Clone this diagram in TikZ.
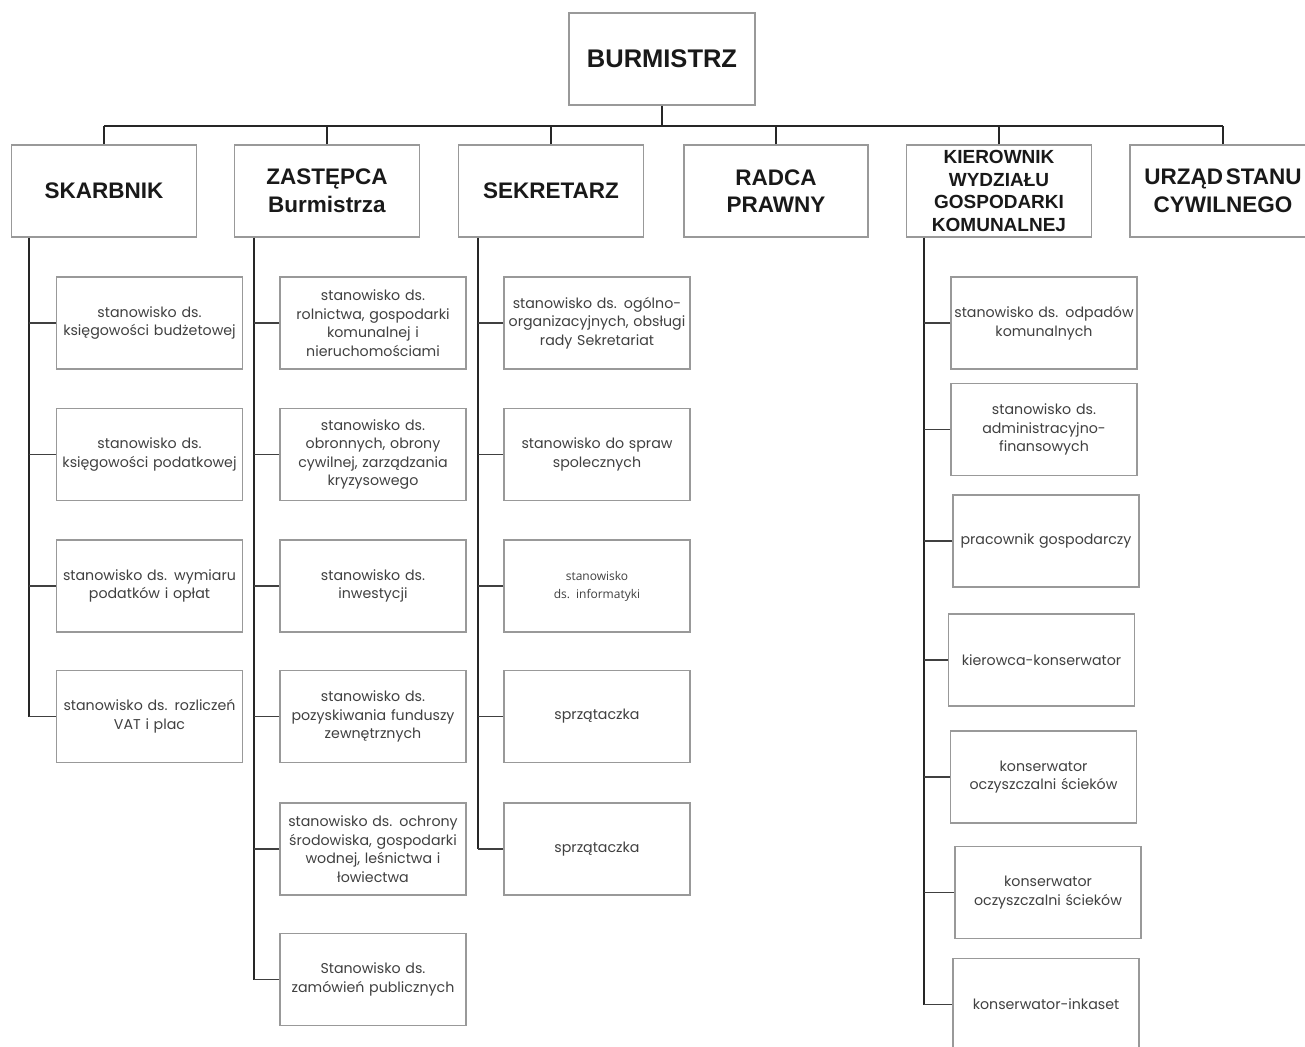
\documentclass[tikz,border=0pt]{standalone}
\usepackage{fontspec}
\setmainfont{Poppins}
\newfontfamily\hdrfont{Liberation Sans}
\newfontfamily\smallfont{Open Sans}
\begin{document}
\begin{tikzpicture}[x=1pt,y=-1pt,
  box/.style={draw=black!40, line width=1.2pt, rectangle, inner sep=0pt, align=center, fill=white},
  head/.style={box, minimum width=185pt, minimum height=92pt, text width=184pt, font=\hdrfont\bfseries\fontsize{22.5}{27.5}\selectfont, text=black!90},
  kid/.style={box, minimum width=186pt, minimum height=92pt, text width=185pt, font=\fontsize{14.2}{18.5}\selectfont, text=black!75},
  conn/.style={draw=black!85, line width=1.6pt},
  br/.style={draw=black!75, line width=1.4pt}]
\useasboundingbox (0,0) rectangle (1305,1046);
\fill[white] (0,0) rectangle (1305,1046);

% top
\node[head, minimum width=186pt, font=\hdrfont\bfseries\fontsize{25.5}{30}\selectfont] (burm) at (662,59) {BURMISTRZ};
\coordinate (bus) at (0,126);

\node[head] (sk) at (104,191) {SKARBNIK};
\node[head] (za) at (327,191) {ZASTĘPCA\\Burmistrza};
\node[head] (se) at (551,191) {SEKRETARZ};
\node[head, minimum width=184pt] (ra) at (776,191) {RADCA\\PRAWNY};
\node[head, font=\hdrfont\bfseries\fontsize{19}{22.5}\selectfont] (ki) at (999,191) {KIEROWNIK\\WYDZIAŁU\\GOSPODARKI\\KOMUNALNEJ};
\node[head, minimum width=186pt] (us) at (1223,191) {URZĄD\hspace{0.12em}STANU\\CYWILNEGO};

\draw[conn] (burm.south) -- (burm.south |- bus);
\draw[conn] (sk.north |- bus) -- (us.north |- bus);
\foreach \n in {sk,za,se,ra,ki,us} \draw[conn] (\n.north) -- (\n.north |- bus);

% SKARBNIK column
\node[kid] (s1) at (149.5,323) {stanowisko ds.\\księgowości budżetowej};
\node[kid] (s2) at (149.5,454.5) {stanowisko ds.\\księgowości podatkowej};
\node[kid] (s3) at (149.5,586) {stanowisko ds. wymiaru\\podatków i opłat};
\node[kid] (s4) at (149.5,716.5) {stanowisko ds. rozliczeń\\VAT i plac};
\coordinate (skT) at ([xshift=18pt]sk.south west);
\draw[conn] (skT) -- (skT |- s4.west);
\foreach \c in {s1,s2,s3,s4} \draw[br] (\c.west) -- (\c.west -| skT);

% ZASTEPCA column
\node[kid] (z1) at (373,323) {stanowisko ds.\\rolnictwa, gospodarki\\komunalnej i\\nieruchomościami};
\node[kid] (z2) at (373,454.5) {stanowisko ds.\\obronnych, obrony\\cywilnej, zarządzania\\kryzysowego};
\node[kid] (z3) at (373,586) {stanowisko ds.\\inwestycji};
\node[kid] (z4) at (373,716.5) {stanowisko ds.\\pozyskiwania funduszy\\zewnętrznych};
\node[kid] (z5) at (373,849) {stanowisko ds. ochrony\\środowiska, gospodarki\\wodnej, leśnictwa i\\łowiectwa};
\node[kid] (z6) at (373,979.5) {Stanowisko ds.\\zamówień publicznych};
\coordinate (zaT) at ([xshift=20pt]za.south west);
\draw[conn] (zaT) -- (zaT |- z6.west);
\foreach \c in {z1,z2,z3,z4,z5,z6} \draw[br] (\c.west) -- (\c.west -| zaT);

% SEKRETARZ column
\node[kid] (e1) at (597,323) {stanowisko ds. ogólno-\\organizacyjnych, obsługi\\rady Sekretariat};
\node[kid] (e2) at (597,454.5) {stanowisko do spraw\\spolecznych};
\node[kid, font=\smallfont\fontsize{12}{18}\selectfont] (e3) at (597,586) {stanowisko\\ds. informatyki};
\node[kid] (e4) at (597,716.5) {sprzątaczka};
\node[kid] (e5) at (597,849) {sprzątaczka};
\coordinate (seT) at ([xshift=20pt]se.south west);
\draw[conn] (seT) -- (seT |- e5.west);
\foreach \c in {e1,e2,e3,e4,e5} \draw[br] (\c.west) -- (\c.west -| seT);

% KIEROWNIK column
\node[kid] (k1) at (1044,323) {stanowisko ds. odpadów\\komunalnych};
\node[kid] (k2) at (1044,429.5) {stanowisko ds.\\administracyjno-\\finansowych};
\node[kid] (k3) at (1046,541) {pracownik gospodarczy};
\node[kid] (k4) at (1041.5,660) {kierowca-konserwator};
\node[kid] (k5) at (1043.5,777) {konserwator\\oczyszczalni ścieków};
\node[kid] (k6) at (1048,892.5) {konserwator\\oczyszczalni ścieków};
\node[kid] (k7) at (1046,1004.5) {konserwator-inkaset};
\coordinate (kiT) at ([xshift=18pt]ki.south west);
\draw[conn] (kiT) -- (kiT |- k7.west);
\foreach \c in {k1,k2,k3,k4,k5,k6,k7} \draw[br] (\c.west) -- (\c.west -| kiT);
\end{tikzpicture}
\end{document}
